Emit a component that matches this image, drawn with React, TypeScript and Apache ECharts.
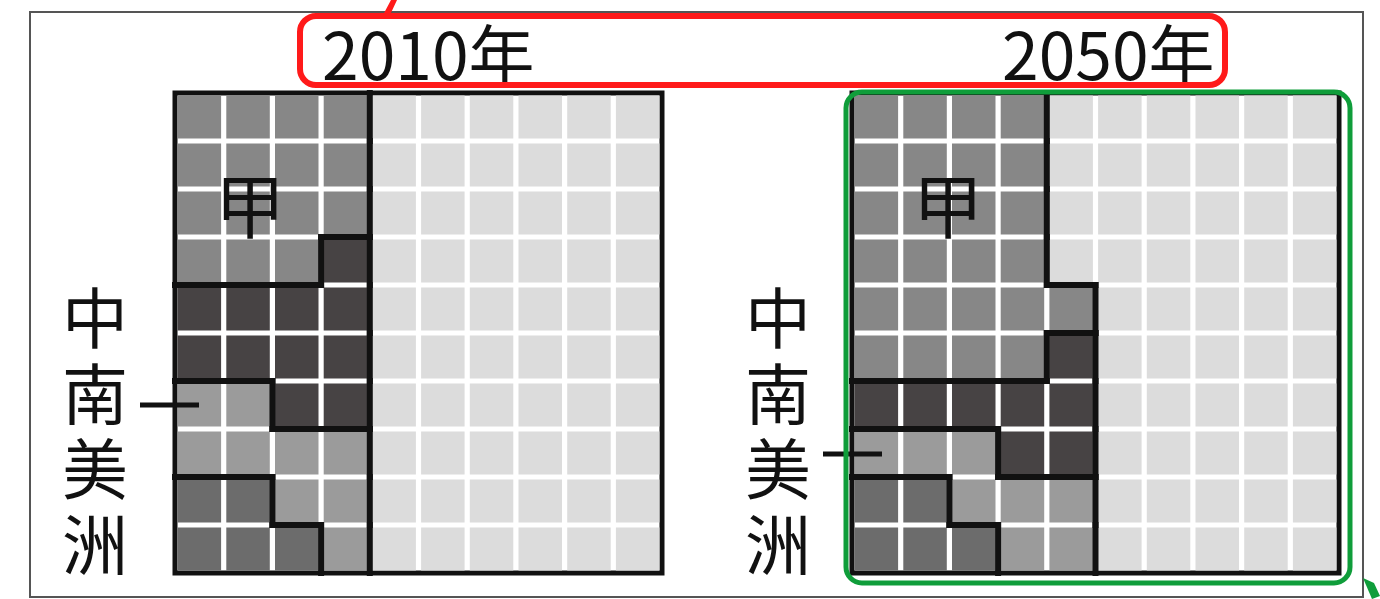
import React, { useEffect, useRef } from "react";
import * as echarts from "echarts";

// ---- data ----
const years = ["2010年", "2050年"];
const regionLabel = "中南美洲";
const markLabel = "甲";
// each letter = one cell (1% share); rows top -> bottom, columns left -> right
const grid2010 = [
  "AAAAEEEEEE",
  "AAAAEEEEEE",
  "AAAAEEEEEE",
  "AAABEEEEEE",
  "BBBBEEEEEE",
  "BBBBEEEEEE",
  "CCBBEEEEEE",
  "CCCCEEEEEE",
  "DDCCEEEEEE",
  "DDDCEEEEEE",
];
const grid2050 = [
  "AAAAEEEEEE",
  "AAAAEEEEEE",
  "AAAAEEEEEE",
  "AAAAEEEEEE",
  "AAAAAEEEEE",
  "AAAABEEEEE",
  "BBBBBEEEEE",
  "CCCBBEEEEE",
  "DDCCCEEEEE",
  "DDDCCEEEEE",
];
const groupCodes = ["A", "B", "C", "D", "E"];

// ---- styles ----
const groupColors: Record<string, string> = {
  A: "#878787",
  B: "#474344",
  C: "#9b9b9b",
  D: "#6c6c6c",
  E: "#dcdcdc",
};

function toCells(rows: string[]) {
  const out: number[][] = [];
  rows.forEach((r, ri) => {
    r.split("").forEach((ch, ci) => {
      out.push([ci, ri, groupCodes.indexOf(ch)]);
    });
  });
  return out;
}

function toBoundaries(rows: string[]) {
  const segs: number[][] = [];
  for (let r = 0; r < rows.length; r++) {
    for (let c = 0; c < rows[r].length; c++) {
      const v = rows[r][c];
      if (c + 1 < rows[r].length && rows[r][c + 1] !== v) segs.push([c + 1, r, c + 1, r + 1]);
      if (r + 1 < rows.length && rows[r + 1][c] !== v) segs.push([c, r + 1, c + 1, r + 1]);
    }
  }
  return segs;
}

const cellRender = (params: any, api: any) => {
  const c = api.value(0);
  const r = api.value(1);
  const g = api.value(2);
  const p0 = api.coord([c, r]);
  const p1 = api.coord([c + 1, r + 1]);
  const gap = 2.6;
  return {
    type: "rect",
    shape: {
      x: Math.min(p0[0], p1[0]) + gap,
      y: Math.min(p0[1], p1[1]) + gap,
      width: Math.abs(p1[0] - p0[0]) - gap * 2,
      height: Math.abs(p1[1] - p0[1]) - gap * 2,
    },
    style: { fill: groupColors[groupCodes[g]] },
  };
};

const segRender = (params: any, api: any) => {
  const a = api.coord([api.value(0), api.value(1)]);
  const b = api.coord([api.value(2), api.value(3)]);
  return {
    type: "line",
    shape: { x1: a[0], y1: a[1], x2: b[0], y2: b[1] },
    style: { stroke: "#111", lineWidth: 6, lineCap: "square" },
  };
};

const FONT = '"Noto Sans CJK TC", "Noto Sans CJK SC", sans-serif';

function verticalLabel(cx: number, centers: number[]) {
  return regionLabel.split("").map((ch, i) => ({
    type: "text",
    z: 100,
    x: cx,
    y: centers[i],
    style: {
      text: ch,
      font: `66px ${FONT}`,
      fill: "#111",
      textAlign: "center",
      textVerticalAlign: "middle",
    },
  }));
}

export default function App() {
  const ref = useRef<HTMLDivElement>(null);
  useEffect(() => {
    if (!ref.current) return;
    const chart = echarts.init(ref.current, undefined, { renderer: "svg" });
    const axisX = (i: number) => ({
      type: "value",
      gridIndex: i,
      min: 0,
      max: 10,
      show: false,
    });
    const axisY = (i: number) => ({
      type: "value",
      gridIndex: i,
      min: 0,
      max: 10,
      inverse: true,
      show: false,
    });
    const gridStyle = {
      show: true,
      borderColor: "#111",
      borderWidth: 5,
      backgroundColor: "#ffffff",
    };
    const labelCenters = [314, 390, 465, 541];
    chart.setOption({
      animation: false,
      backgroundColor: "#ffffff",
      grid: [
        { left: 175, top: 93, width: 487, height: 480, ...gridStyle },
        { left: 852, top: 93, width: 487, height: 480, ...gridStyle },
      ],
      xAxis: [axisX(0), axisX(1)],
      yAxis: [axisY(0), axisY(1)],
      series: [
        { type: "custom", xAxisIndex: 0, yAxisIndex: 0, data: toCells(grid2010), renderItem: cellRender, z: 2 },
        { type: "custom", xAxisIndex: 0, yAxisIndex: 0, data: toBoundaries(grid2010), renderItem: segRender, z: 3 },
        { type: "custom", xAxisIndex: 1, yAxisIndex: 1, data: toCells(grid2050), renderItem: cellRender, z: 2 },
        { type: "custom", xAxisIndex: 1, yAxisIndex: 1, data: toBoundaries(grid2050), renderItem: segRender, z: 3 },
      ],
      graphic: [
        {
          type: "rect",
          z: 0,
          shape: { x: 30, y: 12, width: 1333, height: 585 },
          style: { fill: "none", stroke: "#555", lineWidth: 2 },
        },
        {
          type: "text",
          z: 100,
          x: 322,
          y: 51,
          style: {
            text: years[0],
            font: `66px ${FONT}`,
            fill: "#111",
            textVerticalAlign: "middle",
            textAlign: "left",
          },
        },
        {
          type: "text",
          z: 100,
          x: 1002,
          y: 51,
          style: {
            text: years[1],
            font: `66px ${FONT}`,
            fill: "#111",
            textVerticalAlign: "middle",
            textAlign: "left",
          },
        },
        ...verticalLabel(95, labelCenters),
        ...verticalLabel(778, labelCenters),
        {
          type: "line",
          z: 100,
          shape: { x1: 140, y1: 405, x2: 199, y2: 405 },
          style: { stroke: "#111", lineWidth: 5 },
        },
        {
          type: "line",
          z: 100,
          shape: { x1: 823, y1: 454, x2: 882, y2: 454 },
          style: { stroke: "#111", lineWidth: 5 },
        },
        {
          type: "text",
          z: 100,
          x: 250,
          y: 202,
          style: {
            text: markLabel,
            font: `70px ${FONT}`,
            fill: "#111",
            textAlign: "center",
            textVerticalAlign: "middle",
          },
        },
        {
          type: "text",
          z: 100,
          x: 948,
          y: 202,
          style: {
            text: markLabel,
            font: `70px ${FONT}`,
            fill: "#111",
            textAlign: "center",
            textVerticalAlign: "middle",
          },
        },
        {
          type: "rect",
          z: 110,
          shape: { x: 300, y: 16, width: 925, height: 69, r: 16 },
          style: { fill: "none", stroke: "#ff1a1a", lineWidth: 6 },
        },
        {
          type: "polygon",
          z: 110,
          shape: { points: [[383, 15], [390, 15], [397, 0], [391, 0]] },
          style: { fill: "#ff1a1a" },
        },
        {
          type: "rect",
          z: 110,
          shape: { x: 846, y: 92, width: 504, height: 491, r: 16 },
          style: { fill: "none", stroke: "#0f9d3a", lineWidth: 5 },
        },
        {
          type: "polygon",
          z: 110,
          shape: { points: [[1363, 578], [1374, 583], [1380, 596], [1372, 599]] },
          style: { fill: "#0f9d3a" },
        },
      ],
    });
    return () => chart.dispose();
  }, []);
  return (
    <div
      ref={ref}
      style={{ position: "absolute", left: 0, top: 0, width: 1380, height: 599 }}
    />
  );
}
